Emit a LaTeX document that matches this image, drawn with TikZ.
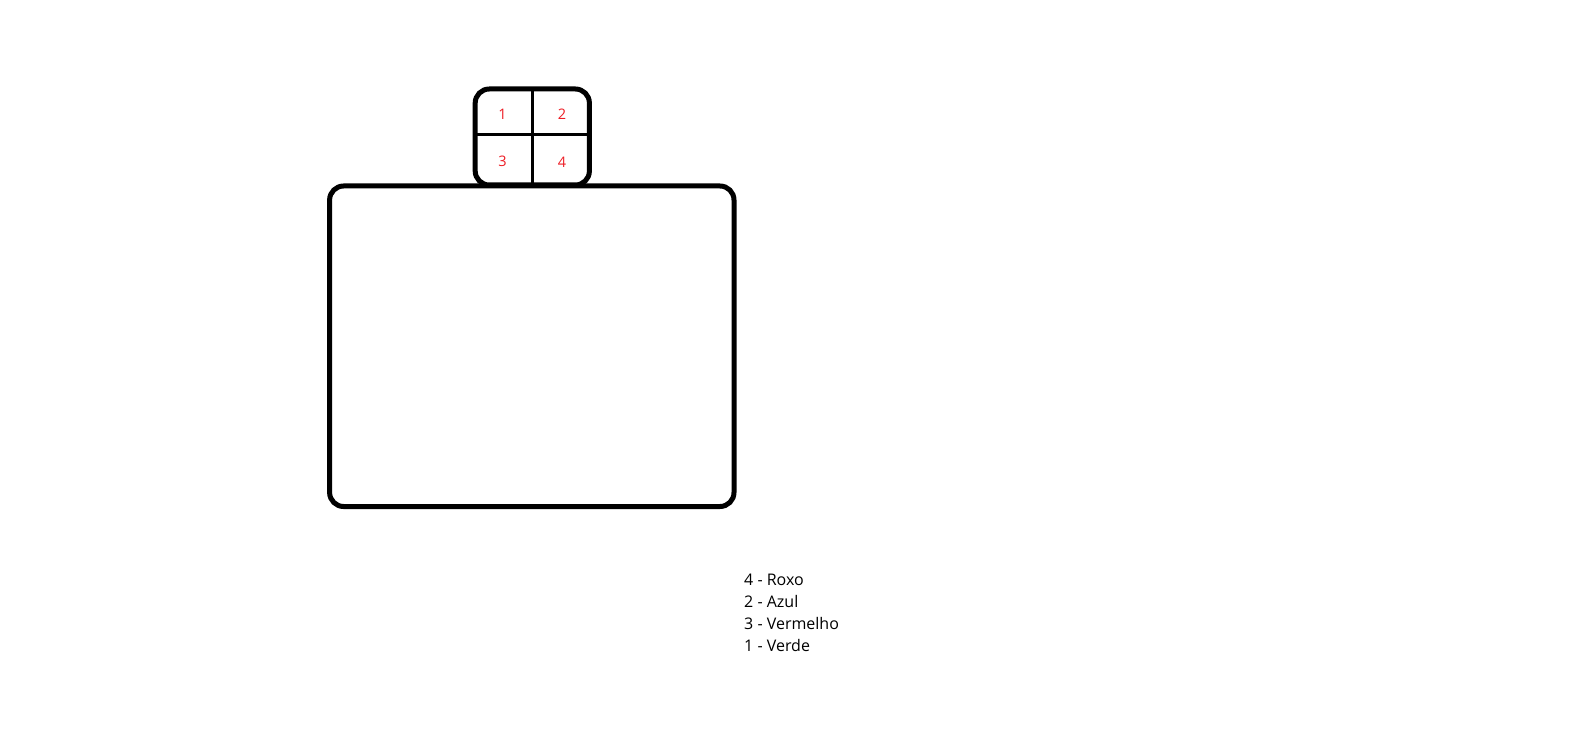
\documentclass[tikz,border=0pt]{standalone}
\usepackage{fontspec}
\setmainfont{Open Sans}
\definecolor{paintred}{HTML}{ED1C24}
\begin{document}
\begin{tikzpicture}[x=1pt,y=-1pt,
  outline/.style={draw=black,line width=5pt,rounded corners=14pt},
  divider/.style={draw=black,line width=3pt},
  num/.style={text=paintred,font=\fontsize{14.5}{17}\selectfont,inner sep=0pt},
  legend/.style={text=black,font=\fontsize{16}{19}\selectfont,inner sep=0pt,anchor=base west}]
\useasboundingbox (0,0) rectangle (1584,735);
% small box
\draw[outline] (475.2,89) rectangle (589.4,185);
\coordinate (vt) at (532.8,89);
\coordinate (vb) at (532.8,188);
\coordinate (hl) at (475.2,134.5);
\coordinate (hr) at (589.4,134.5);
\draw[divider] (vt) -- (vb);
\draw[divider] (hl) -- (hr);
% big box
\draw[outline] (329.6,186) rectangle (734,506.5);
% numbers
\node[num] (n1) at (502.5,114.2) {1};
\node[num] (n2) at (562,114.2) {2};
\node[num] (n3) at (502.5,161.8) {3};
\node[num] (n4) at (562,161.8) {4};
% legend
\node[legend] (l1) at (744,585.9) {4 - Roxo};
\node[legend] (l2) at (744,607.6) {2 - Azul};
\node[legend] (l3) at (744,629.3) {3 - Vermelho};
\node[legend] (l4) at (744,651) {1 - Verde};
\end{tikzpicture}
\end{document}
